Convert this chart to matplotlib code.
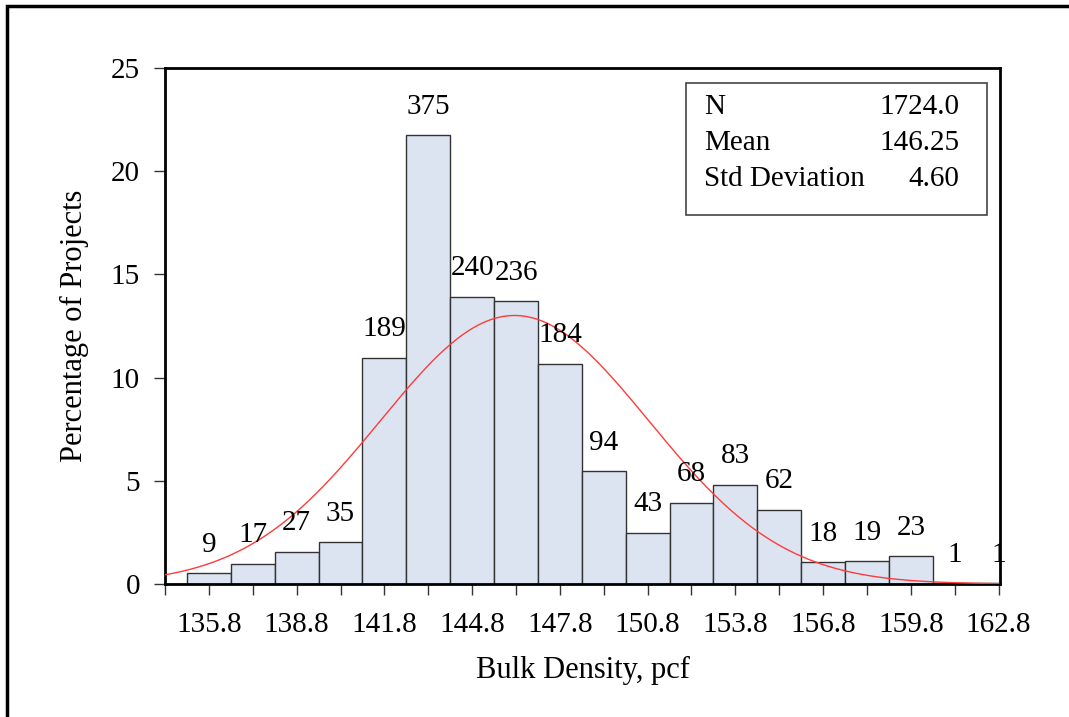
import numpy as np
import matplotlib.pyplot as plt
from matplotlib.patches import Rectangle

# histogram of bulk density, 1.5 pcf bins
bin_centers = [134.3, 135.8, 137.3, 138.8, 140.3, 141.8, 143.3, 144.8, 146.3, 147.8,
               149.3, 150.8, 152.3, 153.8, 155.3, 156.8, 158.3, 159.8, 161.3, 162.8]
counts = [0, 9, 17, 27, 35, 189, 375, 240, 236, 184,
          94, 43, 68, 83, 62, 18, 19, 23, 1, 1]
bin_width = 1.5

n_total = 1724
mean_val = 146.25
std_val = 4.60

stat_names = ["N", "Mean", "Std Deviation"]
stat_values = ["1724.0", "146.25", "4.60"]

x_ticks = [134.3 + 1.5 * i for i in range(20)]
x_ticklabels = ["135.8", "138.8", "141.8", "144.8", "147.8", "150.8", "153.8", "156.8", "159.8", "162.8"]

plt.rcParams["font.family"] = ["Liberation Serif", "DejaVu Serif"]

fig = plt.figure(figsize=(10.69, 7.17), dpi=100)
ax = fig.add_axes([0.1544, 0.1855, 0.7811, 0.7197])

pct = [100.0 * c / n_total for c in counts]
ax.bar(bin_centers, pct, width=bin_width, color="#dbe4f0", edgecolor="#333333",
       linewidth=1.0, zorder=2)

for xc, c, p in zip(bin_centers, counts, pct):
    if c > 0:
        ax.annotate(str(c), (xc, p), xytext=(0, 11), textcoords="offset points",
                    ha="center", va="bottom", fontsize=21, clip_on=False, zorder=4)

# fitted normal curve scaled to percent per bin
xs = np.linspace(134.3, 162.8, 400)
ys = 100.0 * bin_width * np.exp(-0.5 * ((xs - mean_val) / std_val) ** 2) / (std_val * np.sqrt(2 * np.pi))
ax.plot(xs, ys, color="#ff3b3b", linewidth=1.0, zorder=3)

ax.set_xlim(134.3, 162.85)
ax.set_ylim(0, 25)
ax.set_xticks(x_ticks)
ax.set_xticklabels(["" if i % 2 == 0 else x_ticklabels[i // 2] for i in range(len(x_ticks))])
ax.set_yticks([0, 5, 10, 15, 20, 25])
ax.tick_params(axis="both", labelsize=21, length=8, width=1.0, direction="out", color="#333333")
ax.tick_params(axis="x", pad=12)
ax.tick_params(axis="y", pad=10)

for side in ["top", "right", "left", "bottom"]:
    ax.spines[side].set_linewidth(2.0)
    ax.spines[side].set_color("black")

ax.set_xlabel("Bulk Density, pcf", fontsize=22, labelpad=13)
ax.set_ylabel("Percentage of Projects", fontsize=22, labelpad=16)

# statistics box
box = Rectangle((0.624, 0.715), 0.36, 0.255, transform=ax.transAxes, facecolor="white",
                edgecolor="#444444", linewidth=1.2, zorder=5)
ax.add_patch(box)
for i, (name, val) in enumerate(zip(stat_names, stat_values)):
    y = 0.924 - i * 0.07
    ax.text(0.646, y, name, transform=ax.transAxes, ha="left", va="center", fontsize=21, zorder=6)
    ax.text(0.951, y, val, transform=ax.transAxes, ha="right", va="center", fontsize=21, zorder=6)

# outer frame around the figure
fig.patches.append(Rectangle((7 / 1069, -0.05), 1.1, 0.05 + (717 - 6) / 717, transform=fig.transFigure,
                             fill=False, edgecolor="black", linewidth=2.5))

fig.savefig("out.png", dpi=100)
